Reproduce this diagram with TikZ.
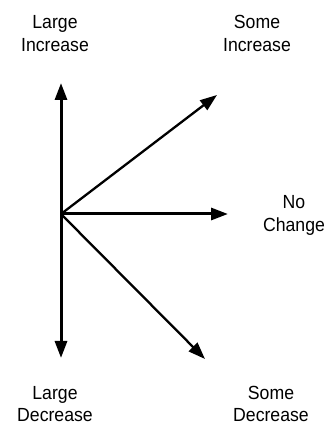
\documentclass[tikz,border=0pt]{standalone}
\usepackage{fontspec}
\setmainfont{Liberation Sans}[FakeStretch=0.93]
\usetikzlibrary{positioning, arrows.meta}
\tikzset{
  lbl/.style     = {align=center, inner sep=0pt,
                    font=\fontsize{19}{22.7}\selectfont},
  bigarr/.style  = {-{Triangle[length=17pt, width=12pt]}, line width=3pt},
  diagarr/.style = {-{Triangle[length=17pt, width=12pt]}, line width=2.3pt},
}
\begin{document}
\begin{tikzpicture}[x=1pt, y=1pt]
    \useasboundingbox (0,0) rectangle (336,426);
    % origin and arrow tips
    \coordinate (o)   at (61,212);
    \coordinate (up)  at (61,343);
    \coordinate (dn)  at (61,68);
    \coordinate (ur)  at (217,331);
    \coordinate (rt)  at (228,212);
    \coordinate (dr)  at (205,67);
    % labels
    \node[lbl] (linc) at (55,392.3)  {Large\\Increase};
    \node[lbl] (sinc) at (257,392.3) {Some\\Increase};
    \node[lbl] (noch) at (294,210.5) {No\\Change};
    \node[lbl] (ldec) at (55,22)     {Large\\Decrease};
    \node[lbl] (sdec) at (271,22)    {Some\\Decrease};
    % arrows
    \draw[bigarr]  (o) -- (up);
    \draw[bigarr]  (o) -- (dn);
    \draw[bigarr]  (o) -- (rt);
    \draw[diagarr] (o) -- (ur);
    \draw[diagarr] (o) -- (dr);
\end{tikzpicture}
\end{document}
